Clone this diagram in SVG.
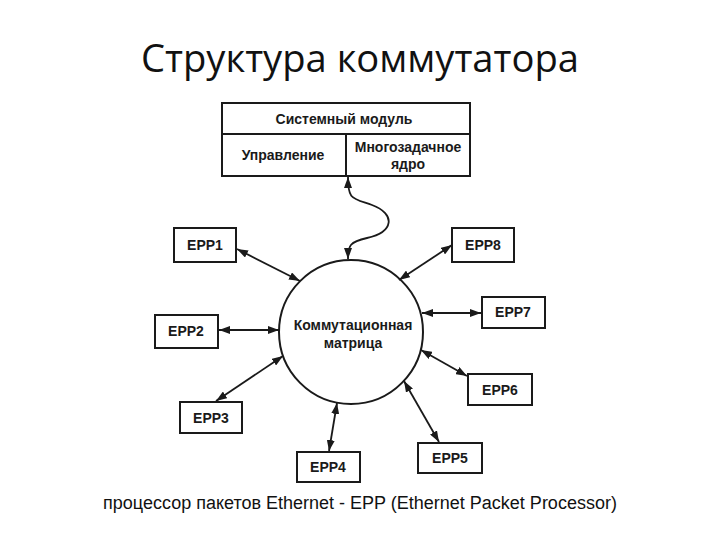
<svg xmlns="http://www.w3.org/2000/svg" width="720" height="540" viewBox="0 0 720 540">
<defs>
<marker id="ah" viewBox="0 0 11 8" refX="11" refY="4" markerWidth="11" markerHeight="8" markerUnits="userSpaceOnUse" orient="auto-start-reverse">
<path d="M0,0 L11,4 L0,8 Z" fill="#1a1a1a"/>
</marker>
<style>
.bx{fill:#fff;stroke:#1a1a1a;stroke-width:2}
.t{font-family:"Liberation Sans",Arial,sans-serif;font-size:14px;font-weight:bold;fill:#1a1a1a;text-anchor:middle}
.c{fill:none;stroke:#1a1a1a;stroke-width:1.8;marker-start:url(#ah);marker-end:url(#ah)}
</style>
</defs>
<rect width="720" height="540" fill="#fff"/>
<text x="360" y="72" font-family="'Open Sans',sans-serif" font-size="38" fill="#111" text-anchor="middle" textLength="438" lengthAdjust="spacingAndGlyphs">Структура коммутатора</text>

<g id="sysmod">
<rect class="bx" x="222" y="103" width="248" height="73"/>
<line x1="222" y1="134" x2="470" y2="134" stroke="#1a1a1a" stroke-width="2"/>
<line x1="346" y1="134" x2="346" y2="176" stroke="#1a1a1a" stroke-width="2"/>
<text class="t" x="344" y="124">Системный модуль</text>
<text class="t" x="283" y="160">Управление</text>
<text class="t" x="408" y="152">Многозадачное</text>
<text class="t" x="408" y="169">ядро</text>
</g>

<g id="matrix">
<circle cx="351" cy="332" r="72" fill="#fff" stroke="#1a1a1a" stroke-width="2"/>
<text class="t" x="353" y="330">Коммутационная</text>
<text class="t" x="353" y="348">матрица</text>
</g>

<g id="epp1"><rect class="bx" x="174" y="228" width="62" height="34"/><text class="t" x="205" y="250">EPP1</text></g>
<g id="epp8"><rect class="bx" x="452" y="228" width="62" height="34"/><text class="t" x="483" y="250">EPP8</text></g>
<g id="epp2"><rect class="bx" x="155" y="315" width="63" height="33"/><text class="t" x="186" y="336">EPP2</text></g>
<g id="epp7"><rect class="bx" x="482" y="297" width="63" height="31"/><text class="t" x="513" y="317">EPP7</text></g>
<g id="epp3"><rect class="bx" x="180" y="402" width="62" height="31"/><text class="t" x="211" y="423">EPP3</text></g>
<g id="epp6"><rect class="bx" x="468" y="374" width="64" height="31"/><text class="t" x="500" y="395">EPP6</text></g>
<g id="epp4"><rect class="bx" x="297" y="452" width="63" height="30"/><text class="t" x="328" y="472">EPP4</text></g>
<g id="epp5"><rect class="bx" x="418" y="443" width="64" height="30"/><text class="t" x="450" y="463">EPP5</text></g>

<g id="connectors">
<path class="c" d="M348,177 C348,200 352,198 372,205 C396,214 394,232 367,238 C350,242 348,245 348,259"/>
<line class="c" x1="237" y1="249" x2="300" y2="281"/>
<line class="c" x1="452" y1="245" x2="399" y2="280"/>
<line class="c" x1="219" y1="330" x2="279" y2="330"/>
<line class="c" x1="422" y1="313" x2="481" y2="313"/>
<line class="c" x1="421" y1="350" x2="467" y2="376"/>
<line class="c" x1="404" y1="381" x2="439" y2="442"/>
<line class="c" x1="337" y1="403" x2="329" y2="451"/>
<line class="c" x1="283" y1="356" x2="216" y2="401"/>
</g>

<text x="360" y="509" font-family="'Liberation Sans',Arial,sans-serif" font-size="18" fill="#111" text-anchor="middle">процессор пакетов Ethernet - EPP (Ethernet Packet Processor)</text>
</svg>
